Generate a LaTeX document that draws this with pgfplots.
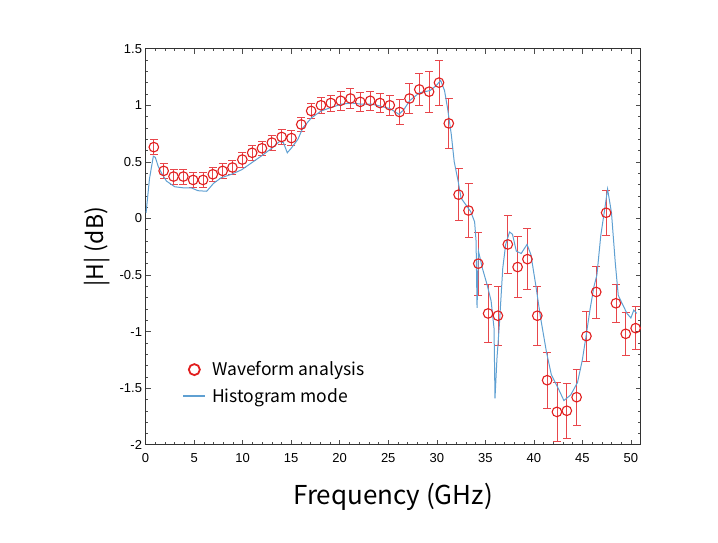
\documentclass[border=0pt]{standalone}
\usepackage{fontspec}
\setmainfont{Liberation Sans}
\newfontfamily\kr{Noto Sans CJK KR}
\usepackage{pgfplots}
\pgfplotsset{compat=1.18}
\usepackage{pgfplotstable}
\definecolor{histblue}{RGB}{95,160,210}
\definecolor{wfred}{RGB}{225,30,30}
\definecolor{errred}{RGB}{232,70,75}

\pgfplotstableread{
x y e
0.85 0.63 0.065
1.86 0.42 0.065
2.88 0.37 0.065
3.89 0.37 0.065
4.90 0.34 0.065
5.92 0.34 0.065
6.93 0.39 0.065
7.94 0.42 0.065
8.95 0.45 0.065
9.97 0.52 0.065
10.98 0.58 0.065
11.99 0.62 0.065
13.01 0.67 0.065
14.02 0.72 0.065
15.03 0.71 0.065
16.04 0.83 0.065
17.06 0.95 0.07
18.07 1.00 0.07
19.08 1.02 0.07
20.10 1.04 0.085
21.11 1.06 0.09
22.12 1.03 0.085
23.14 1.04 0.085
24.15 1.02 0.085
25.16 1.00 0.085
26.17 0.94 0.11
27.19 1.06 0.13
28.20 1.14 0.14
29.21 1.12 0.18
30.23 1.20 0.20
31.24 0.84 0.22
32.25 0.21 0.23
33.27 0.07 0.24
34.28 -0.40 0.28
35.29 -0.84 0.26
36.30 -0.86 0.26
37.32 -0.23 0.26
38.33 -0.43 0.27
39.34 -0.36 0.27
40.36 -0.86 0.26
41.37 -1.43 0.25
42.38 -1.71 0.26
43.40 -1.70 0.24
44.41 -1.58 0.25
45.42 -1.04 0.22
46.43 -0.65 0.23
47.45 0.05 0.20
48.46 -0.75 0.17
49.47 -1.02 0.19
50.49 -0.97 0.19
}\wfdata

\pgfplotstableread{
x y
0.05 0.05
0.4 0.35
0.8 0.55
1.0 0.54
1.3 0.46
1.65 0.40
2.15 0.33
3.0 0.28
3.9 0.27
4.7 0.27
5.4 0.245
6.3 0.24
7.0 0.31
7.8 0.36
8.85 0.39
9.9 0.43
10.9 0.49
11.9 0.55
13.0 0.62
13.8 0.68
14.2 0.67
14.6 0.58
15.0 0.62
15.7 0.70
16.2 0.80
17.1 0.89
18.1 0.95
19.1 0.98
20.2 1.01
21.2 1.02
22.2 1.01
23.3 1.01
24.3 0.99
25.2 0.97
26.1 0.92
26.6 0.96
27.2 1.04
28.2 1.11
29.3 1.13
29.9 1.17
30.4 1.22
30.8 1.13
31.1 0.98
31.5 0.74
31.8 0.50
32.2 0.33
32.5 0.18
33.0 0.12
33.5 0.06
33.9 -0.03
34.05 -0.2
34.15 -0.79
34.3 -0.29
34.7 -0.44
35.2 -0.59
35.6 -0.73
35.9 -0.97
36.0 -1.59
36.2 -1.24
36.45 -0.94
36.8 -0.44
37.1 -0.23
37.5 -0.12
37.8 -0.14
38.2 -0.29
38.7 -0.31
39.3 -0.23
39.7 -0.32
40.2 -0.59
40.7 -0.88
41.3 -1.18
41.8 -1.38
42.5 -1.50
43.1 -1.61
43.8 -1.56
44.5 -1.45
45.0 -1.25
45.4 -1.03
45.8 -0.80
46.2 -0.60
46.5 -0.50
46.9 -0.15
47.3 0.08
47.6 0.26
48.0 0.05
48.4 -0.40
48.7 -0.68
49.2 -0.77
49.6 -0.84
50.0 -0.88
50.3 -0.81
50.6 -0.84
}\histdata

\begin{document}
\begin{tikzpicture}[x=1pt,y=1pt]
\useasboundingbox (0,0) rectangle (718,542);
\begin{axis}[
  at={(150,86)}, anchor=south west,
  scale only axis, width=495pt, height=396pt,
  xmin=0, xmax=51, ymin=-2, ymax=1.5,
  xtick={0,5,...,50}, ytick={-2,-1.5,...,1.5},
  minor x tick num=4, minor y tick num=4,
  tick align=inside,
  major tick length=5pt, minor tick length=2.5pt,
  axis line style={black!80, line width=0.9pt},
  every tick/.style={black!70, line width=0.5pt},
  /pgf/number format/assume math mode=true,
  tick label style={font=\fontsize{13}{15}\selectfont},
  xticklabel style={yshift=-5pt},
  yticklabel style={/pgf/number format/fixed},
  xlabel={\kr Frequency (GHz)},
  ylabel={\kr |H| (dB)},
  xlabel style={font=\fontsize{26}{30}\selectfont, at={(axis description cs:0.5,-0.131)}, anchor=center},
  ylabel style={font=\fontsize{23}{28}\selectfont, at={(axis description cs:-0.099,0.5)}, anchor=center},
  legend style={at={(axis description cs:0.068,0.22)}, anchor=north west,
    draw=none, fill=none, font=\kr\fontsize{17.5}{21}\selectfont,
    row sep=7pt},
  legend cell align=left,
]
\addlegendimage{legend image code/.code={\draw[only marks, mark=o, mark size=5.5pt, wfred, line width=1.8pt] plot coordinates {(11pt,0pt)};}}
\addlegendentry{\hspace*{4pt}Waveform analysis}
\addlegendimage{legend image code/.code={\draw[histblue, line width=1.8pt] (0pt,0pt) -- (22pt,0pt);}}
\addlegendentry{\hspace*{4pt}Histogram mode}

\addplot[forget plot, only marks, mark=o, mark size=4.8pt, wfred,
  mark options={line width=1.1pt},
  error bars/.cd, y dir=both, y explicit,
  error bar style={errred, line width=0.75pt},
  error mark options={rotate=90, mark size=4pt, errred, line width=0.75pt}]
  table[x=x, y=y, y error=e]{\wfdata};

\addplot[forget plot, histblue, line width=1pt] table[x=x, y=y]{\histdata};
\end{axis}
\end{tikzpicture}
\end{document}
